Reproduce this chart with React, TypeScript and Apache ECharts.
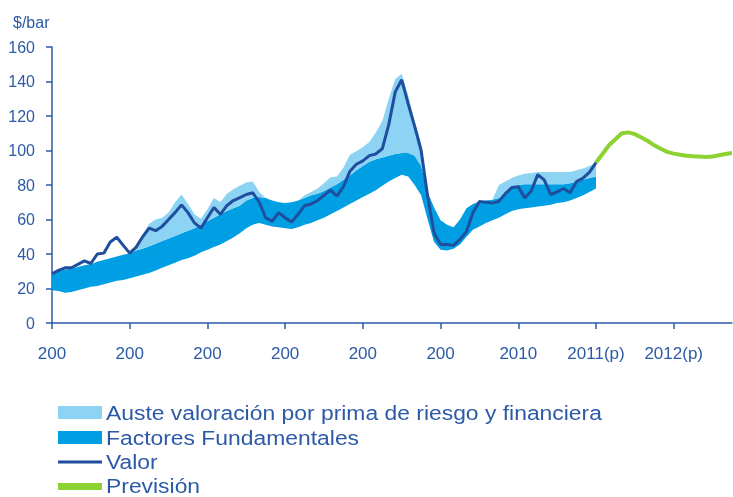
import React, { useEffect, useRef } from "react";
import * as echarts from "echarts";

const startYear = 2004;
const monthCount = 106;
const tickLabels = ["200", "200", "200", "200", "200", "200", "2010", "2011(p)", "2012(p)"];
const yTicks = { min: 0, max: 160, interval: 20 };

// Monthly values, Jan 2004 .. Jan 2011 ($/bar)
const valor = [
  28.5, 30.5, 32, 32, 34, 36, 34.5, 40, 40.5, 47,
  49.7, 45, 40.5, 44, 50, 55, 53.5, 56, 60, 64,
  68.5, 64, 58, 55, 61, 67, 63, 68, 71, 72.7,
  74.5, 75.5, 70, 61, 59, 64, 61, 58.5, 63, 68,
  69, 71, 74, 77, 73.5, 79, 88, 92, 94, 97,
  98, 101, 115, 134, 141, 127, 114, 100, 73.5, 52,
  45.5, 45.5, 45, 48.5, 53, 64, 70.5, 70, 69.5, 70.5,
  75, 78.5, 79, 72.5, 76.5, 86, 83, 74.5, 76, 78,
  75.5, 82, 84, 87.5, 93,
];
const fundBottom = [
  19, 18.5, 17.5, 18, 19, 20, 21, 21.5, 22.5, 23.5,
  24.5, 25, 26, 27, 28, 29, 30.5, 32, 33.5, 35,
  36.5, 37.5, 39, 41, 42.5, 44, 45.5, 47.5, 49.5, 52,
  55, 57, 58, 57, 56, 55.5, 55, 54.5, 55.5, 57,
  58, 59.5, 61, 63, 65, 67, 69, 71, 73, 75,
  77, 79.5, 82, 84, 86, 85, 80, 74, 60, 47,
  42.5, 42, 43, 45.5, 50, 54, 56, 58, 59.5, 61,
  63, 65, 66, 66.5, 67, 67.5, 68, 68.5, 69.5, 70,
  71, 72.5, 74, 76, 78,
];
const fundTop = [
  29, 30, 31, 31.5, 32.5, 33.5, 34, 35.5, 36.5, 37.5,
  38.5, 39.5, 40.5, 42, 43, 44.5, 46, 47.5, 49, 50.5,
  52, 53.5, 55, 57, 59, 61, 63, 65, 66.5, 68,
  71, 72.5, 73, 72.5, 71, 70, 69.5, 70, 71, 72.5,
  74, 75, 76.5, 78.5, 80.5, 83, 85.5, 88.5, 91, 93.5,
  95, 96, 97, 98, 98.5, 98.5, 97, 91, 76, 67,
  59.5, 57, 55.5, 60, 66.5, 69, 70.5, 71, 71.5, 72.5,
  75, 79, 80, 80.5, 80.5, 80.5, 80.5, 80.5, 80.5, 80.5,
  81, 82, 83, 84, 85,
];
const adjTop = [
  29, 30, 31, 31.5, 32.5, 33.5, 34, 35.5, 36.5, 37.5,
  38.5, 39.5, 40.5, 45, 51, 57.5, 60, 61, 64, 70,
  74.5, 69, 63, 60.5, 66, 72.5, 70, 75, 77.5, 79.5,
  81.5, 82, 76, 72.5, 71, 70, 69.5, 70, 71, 74,
  76, 78, 81, 84.5, 85, 90, 97.5, 99.5, 102, 105,
  110.5, 117, 130, 141.5, 144.5, 132, 117, 104, 76, 67,
  59.5, 57, 55.5, 60, 66.5, 69, 70.5, 71, 71.5, 80,
  82, 84, 85.5, 86.5, 87, 87.5, 87.5, 87.5, 87.5, 87.5,
  87.5, 88.5, 89.5, 91, 93,
];
// Forecast, Jan 2011 .. Oct 2012
const previsionStart = 84;
const prevision = [
  93, 98, 103, 106.5, 110, 110.5, 109.5, 107.5, 105.5, 103,
  101, 99.2, 98.2, 97.5, 97, 96.7, 96.5, 96.3, 96.5, 97.2,
  98, 98.5,
];

const legendNames = [
  "Auste valoración por prima de riesgo y financiera",
  "Factores Fundamentales",
  "Valor",
  "Previsión",
];

const C_LIGHT = "#8DD3F3";
const C_MED = "#009FE3";
const C_DARK = "#1F4E9E";
const C_GREEN = "#8CD232";
const C_AXIS = "#2C5AA6";
const FONT = "'Liberation Sans', Arial, sans-serif";

export default function App() {
  const ref = useRef<HTMLDivElement>(null);
  useEffect(() => {
    if (!ref.current) return;
    const chart = echarts.init(ref.current, null, { renderer: "svg" });
    const months: string[] = [];
    for (let i = 0; i < monthCount; i++) {
      const y = startYear + Math.floor(i / 12);
      const m = (i % 12) + 1;
      months.push(`${y}-${m < 10 ? "0" + m : m}`);
    }
    const pad = (arr: number[], offset: number) =>
      months.map((_, i) => (i - offset >= 0 && i - offset < arr.length ? arr[i - offset] : null));
    const fundThick = fundTop.map((t, i) => +(t - fundBottom[i]).toFixed(2));
    const adjThick = adjTop.map((a, i) => +Math.max(0, a - fundTop[i]).toFixed(2));
    const isYear = (i: number) => i % 12 === 0;

    const legendRowY = [413, 438, 462, 486];
    const graphic: any[] = [
      { type: "text", left: 13, top: 14, style: { text: "$/bar", fill: C_AXIS, font: `16px ${FONT}` } },
      { type: "rect", shape: { x: 58, y: legendRowY[0] - 7, width: 44, height: 13 }, style: { fill: C_LIGHT } },
      { type: "rect", shape: { x: 58, y: legendRowY[1] - 7, width: 44, height: 13 }, style: { fill: C_MED } },
      { type: "line", shape: { x1: 58, y1: legendRowY[2], x2: 102, y2: legendRowY[2] }, style: { stroke: C_DARK, lineWidth: 3 } },
      { type: "rect", shape: { x: 58, y: legendRowY[3] - 3, width: 44, height: 7 }, style: { fill: C_GREEN } },
    ];
    legendNames.forEach((n, k) => {
      graphic.push({
        type: "text",
        x: 106,
        y: legendRowY[k],
        scaleX: 1.09,
        style: { text: n, fill: C_AXIS, font: `21px ${FONT}`, verticalAlign: "middle", align: "left" },
      });
    });

    chart.setOption({
      animation: false,
      grid: { left: 52, right: 1, top: 47, bottom: 174, containLabel: false },
      xAxis: {
        type: "category",
        data: months,
        boundaryGap: false,
        axisLine: { lineStyle: { color: C_AXIS, width: 1.5 } },
        axisTick: { interval: (i: number) => isYear(i), length: 6, lineStyle: { color: C_AXIS, width: 1.5 } },
        axisLabel: {
          interval: (i: number) => isYear(i),
          formatter: (_v: string, i: number) => tickLabels[Math.round(i / 12)] ?? "",
          color: C_AXIS,
          fontSize: 17,
          fontFamily: FONT,
          margin: 22,
        },
        splitLine: { show: false },
      },
      yAxis: {
        type: "value",
        min: yTicks.min,
        max: yTicks.max,
        interval: yTicks.interval,
        axisLine: { show: true, lineStyle: { color: C_AXIS, width: 1.5 } },
        axisTick: { show: true, length: 6, lineStyle: { color: C_AXIS, width: 1.5 } },
        axisLabel: { color: C_AXIS, fontSize: 16, fontFamily: FONT, margin: 17 },
        splitLine: { show: false },
      },
      graphic,
      series: [
        { name: "base", type: "line", stack: "band", data: pad(fundBottom, 0), symbol: "none", lineStyle: { opacity: 0 }, silent: true, z: 1 },
        { name: legendNames[1], type: "line", stack: "band", data: pad(fundThick, 0), symbol: "none", lineStyle: { opacity: 0 }, areaStyle: { color: C_MED, opacity: 1 }, z: 1 },
        { name: legendNames[0], type: "line", stack: "band", data: pad(adjThick, 0), symbol: "none", lineStyle: { opacity: 0 }, areaStyle: { color: C_LIGHT, opacity: 1 }, z: 1 },
        { name: legendNames[2], type: "line", data: pad(valor, 0), symbol: "none", lineStyle: { color: C_DARK, width: 3 }, z: 3 },
        { name: legendNames[3], type: "line", data: pad(prevision, previsionStart), symbol: "none", lineStyle: { color: C_GREEN, width: 4 }, z: 3 },
      ],
    });
    return () => chart.dispose();
  }, []);
  return <div ref={ref} style={{ position: "fixed", left: 0, top: 0, width: 733, height: 497 }} />;
}
